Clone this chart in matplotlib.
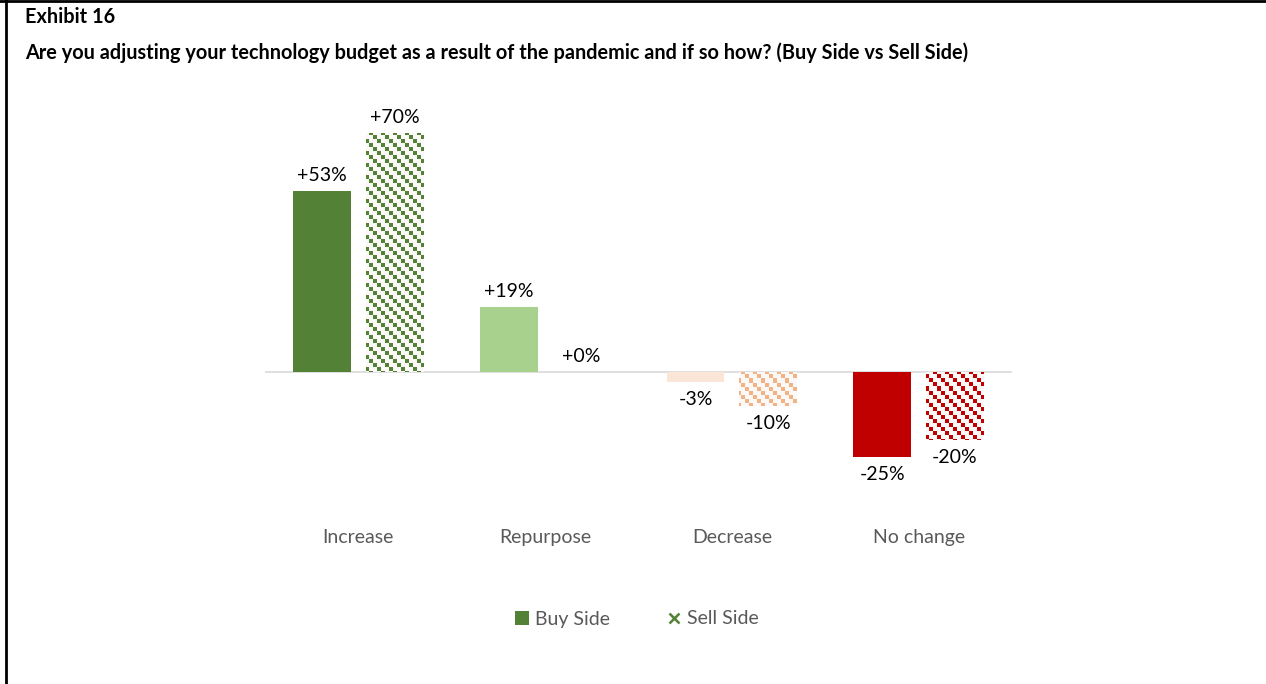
import matplotlib

matplotlib.use("Agg")
import matplotlib.pyplot as plt
import numpy as np
from matplotlib.lines import Line2D
from matplotlib.patches import Rectangle

# Survey responses, net % by answer
categories = ["Increase", "Repurpose", "Decrease", "No change"]
buy_side = [53, 19, -3, -25]
sell_side = [70, 0, -10, -20]
series_names = ["Buy Side", "Sell Side"]

buy_colors = ["#538135", "#A9D18E", "#FBE5D6", "#C00000"]
sell_colors = ["#538135", "#A9D18E", "#F4B183", "#C00000"]

FONT = ["Lato", "DejaVu Sans"]
W, H = 1266, 684
DPI = 100

fig = plt.figure(figsize=(W / DPI, H / DPI), dpi=DPI)
fig.patch.set_facecolor("white")

# plot area in pixels: x 265..1012, zero line at y=372, 1% ~ 3.414 px
ymin, ymax = -30, 80
px_per = 3.414
ax_left, ax_right = 265, 1012
ax_top = 372 - ymax * px_per
ax_bot = 372 - ymin * px_per
ax = fig.add_axes([ax_left / W, 1 - ax_bot / H,
                   (ax_right - ax_left) / W, (ax_bot - ax_top) / H])
ax.set_xlim(-0.5, 3.5)
ax.set_ylim(ymin, ymax)
ax.axis("off")

x = np.arange(len(categories))
offset = 0.195
bw = 0.31

# pixel-grid checker pattern (diagonal runs of small squares)
ax_w_px = int(ax_right - ax_left)
ax_h_px = int(ax_bot - ax_top)
cell = 4
jj, ii = np.mgrid[0:ax_h_px, 0:ax_w_px]
pattern = ((ii // cell - jj // cell) % 3 == 0)


def fmt(v):
  return f"+{v}%" if v >= 0 else f"{v}%"


ax.axhline(0, color="#D9D9D9", lw=1.2, zorder=1)

for i, (b, s) in enumerate(zip(buy_side, sell_side)):
  ax.bar(x[i] - offset, b, width=bw, color=buy_colors[i], zorder=2)
  if s != 0:
    rect = Rectangle((x[i] + offset - bw / 2, 0), bw, s,
                     facecolor="#FBF9F7", edgecolor="none", zorder=2)
    ax.add_patch(rect)
    rgba = np.zeros((ax_h_px, ax_w_px, 4))
    rgba[..., :3] = matplotlib.colors.to_rgb(sell_colors[i])
    rgba[..., 3] = pattern.astype(float)
    im = ax.imshow(rgba, extent=(-0.5, 3.5, ymin, ymax), origin="upper",
                   interpolation="nearest", aspect="auto", zorder=3)
    im.set_clip_path(rect)
  for xv, v in ((x[i] - offset, b), (x[i] + offset, s)):
    va = "bottom" if v >= 0 else "top"
    dy = 2.0 if v >= 0 else -2.6
    ax.text(xv, v + dy, fmt(v), ha="center", va=va, fontsize=14,
            family=FONT, color="#000000", zorder=4)

for i, c in enumerate(categories):
  fig.text((ax_left + (i + 0.5) * (ax_right - ax_left) / 4) / W, 1 - 543 / H, c,
           ha="center", va="baseline", fontsize=14, family=FONT, color="#595959")

# legend
handles = [
  Rectangle((0, 0), 1, 1, facecolor=buy_colors[0], edgecolor="none"),
  Line2D([], [], marker="x", ls="none", color=buy_colors[0], markersize=7.5,
         markeredgewidth=1.8),
]
fig.legend(handles, series_names, loc="center", bbox_to_anchor=(637 / W, 1 - 619 / H),
           ncol=2, frameon=False, handlelength=0.7, handletextpad=0.35,
           columnspacing=2.9, prop={"family": FONT, "size": 14},
           labelcolor="#595959")

fig.text(25 / W, 1 - 17 / H, "Exhibit 16", ha="left", va="center",
         fontsize=14.3, fontweight="bold", family=FONT)
fig.text(25 / W, 1 - 53 / H,
         "Are you adjusting your technology budget as a result of the pandemic "
         "and if so how? (Buy Side vs Sell Side)",
         ha="left", va="center", fontsize=14.3, fontweight="bold", family=FONT)

# frame lines on top and left edge
fig.add_artist(Line2D([0, 1], [1 - 1 / H, 1 - 1 / H], transform=fig.transFigure,
                      color="black", lw=2))
fig.add_artist(Line2D([6 / W, 6 / W], [0, 1], transform=fig.transFigure,
                      color="black", lw=2))

fig.savefig("out.png", dpi=DPI, facecolor="white")
